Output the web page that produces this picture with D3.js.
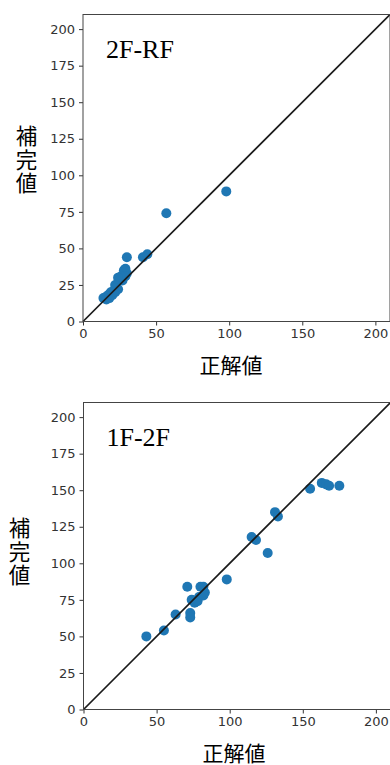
<!DOCTYPE html>
<html lang="ja">
<head>
<meta charset="UTF-8">
<title>補完値 vs 正解値</title>
<script src="https://d3js.org/d3.v7.min.js"></script>
<style>
  body { margin: 0; background: #fff; }
  .tick text { font-family: "DejaVu Sans", sans-serif; font-size: 13px; fill: #333; }
  .tick line { stroke: #333; }
</style>
</head>
<body>
<script>
// 2F-RF
const rfTrue    = [98, 57, 30, 41, 44, 29, 30, 28, 27, 29, 26, 24, 22, 24, 21, 23, 19, 20, 17, 18, 16, 15, 14, 16, 18, 20, 22]
const rfImputed = [89, 74, 44, 44, 46, 36, 33, 35, 28, 31, 31, 30, 25, 22, 21, 23, 20, 19, 18, 17, 17, 16, 16, 15, 16, 18, 20]
// 1F-2F
const f2True    = [43, 55, 63, 73, 73, 71, 74, 76, 78, 79, 80, 82, 83, 82, 98, 115, 118, 126, 131, 133, 155, 163, 166, 168, 175]
const f2Imputed = [50, 54, 65, 66, 63, 84, 75, 73, 74, 77, 84, 84, 80, 78, 89, 118, 116, 107, 135, 132, 151, 155, 154, 153, 153]
const ticks = [0, 50, 100, 150, 200]
const yTicks = [0, 25, 50, 75, 100, 125, 150, 175, 200]

const W = 390, H = 765
const svg = d3.select("body").append("svg")
    .attr("width", W).attr("height", H)

function panel(opt) {
    const size = 307
    const x = d3.scaleLinear().domain([0, 210]).range([0, size])
    const y = d3.scaleLinear().domain([0, 210]).range([size, 0])
    const g = svg.append("g").attr("transform", `translate(${opt.left},${opt.top})`)

    // 散布点
    g.selectAll("circle")
        .data(d3.zip(opt.xs, opt.ys))
        .enter().append("circle")
        .attr("cx", d => x(d[0]))
        .attr("cy", d => y(d[1]))
        .attr("r", 5)
        .attr("fill", "#1f77b4")

    // y = x
    g.append("line")
        .attr("x1", x(0)).attr("y1", y(0))
        .attr("x2", x(210)).attr("y2", y(210))
        .attr("stroke", "#1a1a1a").attr("stroke-width", 1.7)

    g.append("g").attr("transform", `translate(0,${size})`)
        .call(d3.axisBottom(x).tickValues(ticks).tickSize(4).tickPadding(3))
        .call(a => a.select(".domain").remove())
    g.append("g")
        .call(d3.axisLeft(y).tickValues(yTicks).tickSize(4).tickPadding(4))
        .call(a => a.select(".domain").remove())

    g.append("rect")
        .attr("width", size).attr("height", size)
        .attr("fill", "none").attr("stroke", "#444").attr("stroke-width", 1)

    g.append("text")
        .attr("x", 23).attr("y", opt.titleY)
        .style("font-family", "'Liberation Serif', serif")
        .style("font-size", "26px")
        .text(opt.title)

    g.append("text")
        .attr("x", opt.xlabelX).attr("y", size + 42)
        .attr("text-anchor", "middle")
        .attr("dominant-baseline", "central")
        .style("font-family", "'Noto Sans CJK JP', sans-serif")
        .style("font-size", "21px")
        .text("正解値")

    // 縦書きラベル
    g.append("text")
        .attr("x", opt.ylabelX)
        .attr("y", opt.ylabelY)
        .attr("text-anchor", "middle")
        .style("writing-mode", "vertical-rl")
        .style("letter-spacing", "2px")
        .style("font-family", "'Noto Sans CJK JP', sans-serif")
        .style("font-size", "21.5px")
        .text("補完値")
}

panel({ left: 83, top: 14.5, xs: rfTrue, ys: rfImputed, title: "2F-RF", titleY: 43,
        xlabelX: 148, ylabelX: -56.5, ylabelY: 146 })
panel({ left: 83.5, top: 402.5, xs: f2True, ys: f2Imputed, title: "1F-2F", titleY: 43,
        xlabelX: 150.5, ylabelX: -64, ylabelY: 150 })
</script>
</body>
</html>
